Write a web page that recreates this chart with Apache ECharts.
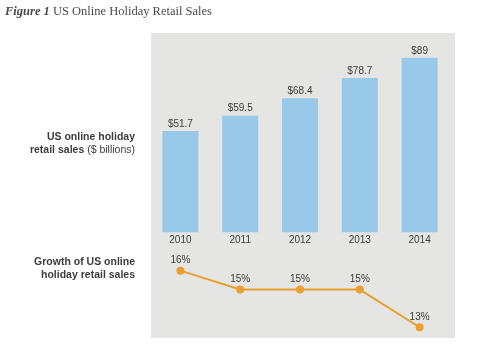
<!DOCTYPE html>
<html>
<head>
<meta charset="utf-8">
<script src="https://cdn.jsdelivr.net/npm/echarts@6/dist/echarts.min.js"></script>
<style>
  html, body { margin: 0; padding: 0; background: #fff; }
  #chart { width: 497px; height: 354px; }
</style>
</head>
<body>
<div id="chart"></div>
<script>
// data
const years = ['2010', '2011', '2012', '2013', '2014']
const sales = [51.7, 59.5, 68.4, 78.7, 89]   // $ billions
const growth = [16, 15, 15, 15, 13]           // %

const textColor = '#3c3c3c'
const sansFont = '"Liberation Sans", Arial, sans-serif'

// right-aligned side label, one line per element
function sideLabel(y, text, bold) {
  return {
    type: 'text',
    x: 135,
    y: y,
    style: {
      text: text,
      align: 'right',
      verticalAlign: 'middle',
      fontFamily: sansFont,
      fontSize: 10.5,
      fill: textColor,
      rich: {
        b: { fontFamily: sansFont, fontSize: 10.5, fontWeight: 'bold', fill: textColor }
      }
    }
  }
}

const chart = echarts.init(document.getElementById('chart'))

chart.setOption({
  animation: false,
  backgroundColor: '#fff',
  title: {
    text: '{b|Figure 1} US Online Holiday Retail Sales',
    left: 0,
    top: 0,
    textStyle: {
      fontFamily: '"Liberation Serif", "Times New Roman", serif',
      fontSize: 12.5,
      fontWeight: 'normal',
      color: '#4a4a4a',
      rich: {
        b: {
          fontFamily: '"Liberation Serif", "Times New Roman", serif',
          fontSize: 12.5,
          fontWeight: 'bold',
          fontStyle: 'italic',
          color: '#4a4a4a'
        }
      }
    }
  },
  graphic: [
    // grey panel behind both plots
    {
      type: 'rect',
      z: -10,
      shape: { x: 151, y: 33, width: 304, height: 305 },
      style: { fill: '#e5e5e4' }
    },
    sideLabel(137, '{b|US online holiday}'),
    sideLabel(150, '{b|retail sales} ($ billions)'),
    sideLabel(262, '{b|Growth of US online}'),
    sideLabel(275, '{b|holiday retail sales}')
  ],
  grid: [
    { left: 150.5, width: 299, top: 36.3, height: 196 },
    { left: 150.5, width: 299, top: 251.8, height: 84.9 }
  ],
  xAxis: [
    {
      type: 'category',
      gridIndex: 0,
      data: years,
      axisLine: { show: false },
      axisTick: { show: false },
      axisLabel: { margin: 3, fontFamily: sansFont, fontSize: 10, color: textColor }
    },
    {
      type: 'category',
      gridIndex: 1,
      data: years,
      show: false
    }
  ],
  yAxis: [
    { type: 'value', gridIndex: 0, min: 0, max: 100, show: false },
    { type: 'value', gridIndex: 1, min: 12.5, max: 17, show: false }
  ],
  series: [
    {
      type: 'bar',
      xAxisIndex: 0,
      yAxisIndex: 0,
      data: sales,
      barWidth: 36,
      itemStyle: { color: '#99c9e9' },
      label: {
        show: true,
        position: 'top',
        distance: 2,
        formatter: p => '$' + p.value,
        fontFamily: sansFont,
        fontSize: 10,
        color: textColor
      }
    },
    {
      type: 'line',
      xAxisIndex: 1,
      yAxisIndex: 1,
      data: growth,
      symbol: 'circle',
      symbolSize: 8,
      lineStyle: { color: '#e8a030', width: 2 },
      itemStyle: { color: '#e8a030' },
      label: {
        show: true,
        position: 'top',
        distance: 1,
        formatter: p => p.value + '%',
        fontFamily: sansFont,
        fontSize: 10,
        color: textColor
      }
    }
  ]
})
</script>
</body>
</html>
